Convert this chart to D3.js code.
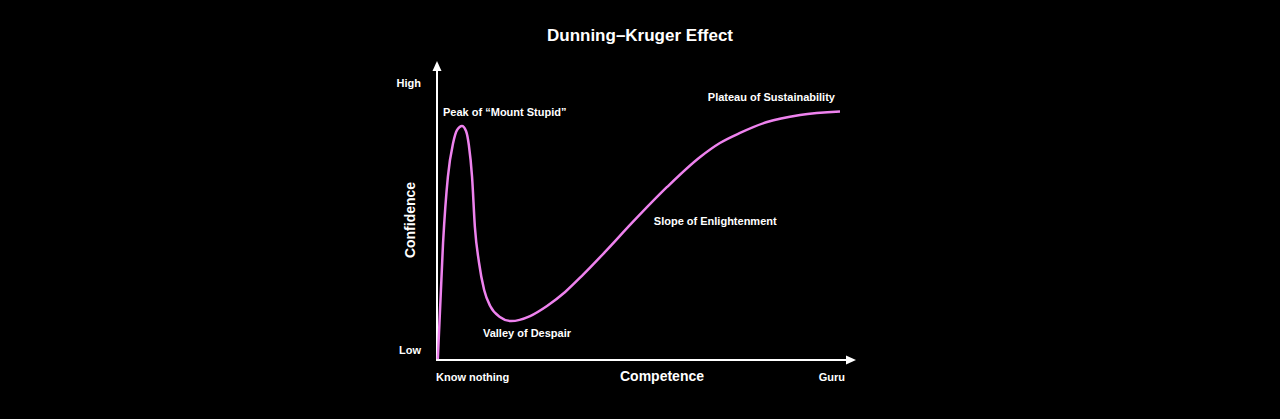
<!DOCTYPE html>
<html><head><meta charset="utf-8">
<script src="https://cdn.jsdelivr.net/npm/d3@7"></script>
<style>body{margin:0;background:#000;}svg{display:block;}text{font-family:"Liberation Sans",Arial,sans-serif;font-weight:bold;fill:#fff;}</style>
</head><body>
<script>
const title = "Dunning–Kruger Effect";
const competence = [0.2, 1.5, 2.7, 4.0, 4.96, 6.2, 7.2, 7.9, 8.7, 9.4, 10.4, 11.7, 13.2, 15.6, 18.4, 23.1, 27.3, 31.8, 36.2, 41.7, 48.6, 57.1, 65.3, 70.2, 75.2, 81.9, 90.1, 100];
const confidence = [0.3, 41.8, 65.4, 77.5, 82.1, 83.6, 81.8, 76.8, 65.4, 47.5, 35.0, 25.0, 19.3, 15.4, 13.9, 15.7, 19.3, 24.3, 30.4, 38.6, 49.3, 61.8, 72.5, 77.5, 81.1, 85.0, 87.5, 88.75];
const stageNames = ["Peak of “Mount Stupid”", "Valley of Despair", "Slope of Enlightenment", "Plateau of Sustainability"];
const stageX = [1.5, 11.4, 53.8, 67.2];
const stageY = [87.1, 8.2, 48.2, 92.5];
const xTickLabels = ["Know nothing", "Guru"];
const yTickLabels = ["Low", "High"];

const W = 1280, H = 419;
const svg = d3.select("body").append("svg").attr("width", W).attr("height", H).style("background", "#000");
const x = d3.scaleLinear().domain([0, 100]).range([437, 840]);
const y = d3.scaleLinear().domain([0, 100]).range([360, 80]);

// axes
const ax = svg.append("g");
ax.append("line").attr("x1", x(0)).attr("y1", y(0)).attr("x2", 850).attr("y2", y(0)).attr("stroke", "#fff").attr("stroke-width", 2);
ax.append("line").attr("x1", x(0)).attr("y1", y(0) + 1).attr("x2", x(0)).attr("y2", 68).attr("stroke", "#fff").attr("stroke-width", 2);
ax.append("path").attr("d", `M856,${y(0)} L846,${y(0)-4.5} L846,${y(0)+4.5} Z`).attr("fill", "#fff");
ax.append("path").attr("d", `M${x(0)},61 L${x(0)-4.5},71 L${x(0)+4.5},71 Z`).attr("fill", "#fff");

// curve
const pts = competence.map((c, i) => [c, confidence[i]]);
const line = d3.line().x(d => x(d[0])).y(d => y(d[1])).curve(d3.curveMonotoneX);
svg.append("path").datum(pts).attr("d", line).attr("fill", "none").attr("stroke", "#ee82ee").attr("stroke-width", 2.5);

// title
svg.append("text").attr("x", 640).attr("y", 41).attr("text-anchor", "middle").attr("font-size", 17).text(title);

// tick labels
svg.append("text").attr("x", 421).attr("y", y(0) - 6).attr("text-anchor", "end").attr("font-size", 11).text(yTickLabels[0]);
svg.append("text").attr("x", 421).attr("y", 87).attr("text-anchor", "end").attr("font-size", 11).text(yTickLabels[1]);
svg.append("text").attr("x", 436).attr("y", 381).attr("text-anchor", "start").attr("font-size", 11).text(xTickLabels[0]);
svg.append("text").attr("x", 845).attr("y", 381).attr("text-anchor", "end").attr("font-size", 11).text(xTickLabels[1]);

// axis titles
svg.append("text").attr("x", 662).attr("y", 381).attr("text-anchor", "middle").attr("font-size", 14).text("Competence");
svg.append("text").attr("transform", "translate(415,220) rotate(-90)").attr("text-anchor", "middle").attr("font-size", 14).text("Confidence");

// stage labels
stageNames.forEach((s, i) => {
  svg.append("text").attr("x", x(stageX[i])).attr("y", y(stageY[i])).attr("font-size", 11).text(s);
});
</script>
</body></html>
